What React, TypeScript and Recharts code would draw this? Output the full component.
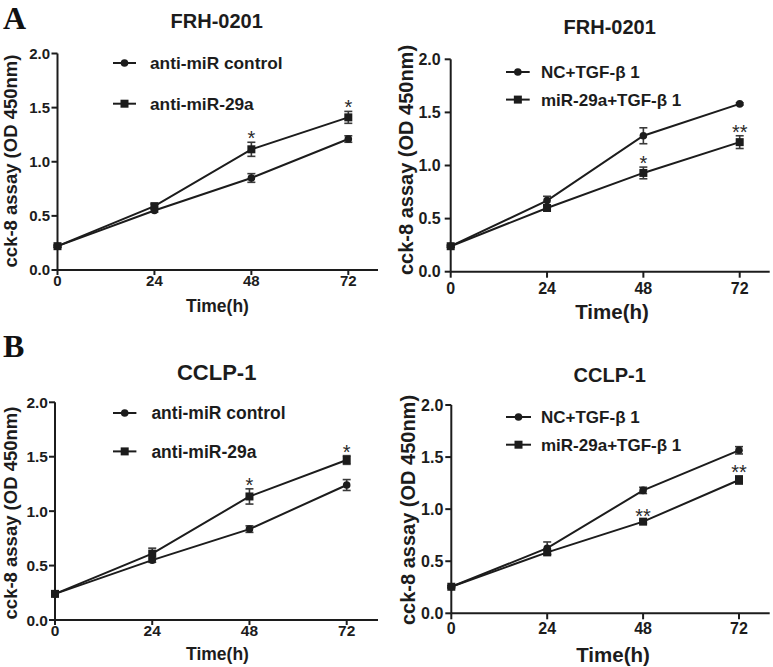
import React from 'react';
import { LineChart, Line, XAxis, YAxis, ErrorBar, Legend, LabelList } from 'recharts';

// ---------- data ----------
const hours = [0, 24, 48, 72];
const xTicks = [0, 24, 48, 72];
const yTicks = [0, 0.5, 1.0, 1.5, 2.0];

const namesAnti = ['anti-miR control', 'anti-miR-29a'];
const namesTgf = ['NC+TGF-β 1', 'miR-29a+TGF-β 1'];

// Panel A, left (FRH-0201, anti-miR)
const aLeftControl = [0.22, 0.55, 0.85, 1.21];
const aLeftControlSd = [0.01, 0.015, 0.04, 0.03];
const aLeftMiR = [0.22, 0.59, 1.115, 1.41];
const aLeftMiRSd = [0.01, 0.02, 0.065, 0.055];
const aLeftSig = ['', '', '*', '*'];

// Panel A, right (FRH-0201, TGF-β1)
const aRightNC = [0.24, 0.67, 1.28, 1.58];
const aRightNCSd = [0.01, 0.04, 0.075, 0.01];
const aRightMiR = [0.24, 0.6, 0.93, 1.22];
const aRightMiRSd = [0.01, 0.02, 0.055, 0.06];
const aRightSig = ['', '', '*', '**'];

// Panel B, left (CCLP-1, anti-miR)
const bLeftControl = [0.24, 0.55, 0.835, 1.24];
const bLeftControlSd = [0.01, 0.02, 0.03, 0.05];
const bLeftMiR = [0.24, 0.61, 1.135, 1.47];
const bLeftMiRSd = [0.01, 0.05, 0.07, 0.04];
const bLeftSig = ['', '', '*', '*'];

// Panel B, right (CCLP-1, TGF-β1)
const bRightNC = [0.255, 0.625, 1.18, 1.565];
const bRightNCSd = [0.01, 0.06, 0.03, 0.035];
const bRightMiR = [0.255, 0.585, 0.88, 1.28];
const bRightMiRSd = [0.01, 0.02, 0.015, 0.04];
const bRightSig = ['', '', '**', '**'];

const buildRows = (s1: number[], s1Sd: number[], s2: number[], s2Sd: number[], sig: string[]) =>
  hours.map((h, i) => ({
    h,
    a: s1[i],
    aSd: s1Sd[i],
    b: s2[i],
    bSd: s2Sd[i],
    sigPos: s2[i] + s2Sd[i],
    sig: sig[i],
  }));

// ---------- style ----------
const INK = '#1c1c1c';
const SANS = '"Liberation Sans", Arial, Helvetica, sans-serif';
const SERIF = '"Liberation Serif", "Times New Roman", serif';

type PanelCfg = {
  key: string;
  rows: any[];
  names: string[];
  left: number; top: number; W: number; H: number;
  x0: number; x72: number; xEnd: number; y0: number; y2: number;
  yTickSize: number; yTickMargin: number; xTickSize: number; xTickMargin: number;
  tickFont: number;
  legend: { lineX1: number; lineX2: number; textX: number; row1: number; row2: number; font: number };
  title: { text: string; cx: number; base: number; size: number };
  yLabel: { bx: number; cy: number; size: number };
  xLabel: { cx: number; base: number; size: number };
};

const panels: PanelCfg[] = [
  {
    key: 'AL', rows: buildRows(aLeftControl, aLeftControlSd, aLeftMiR, aLeftMiRSd, aLeftSig), names: namesAnti,
    left: 0, top: 0, W: 390, H: 333,
    x0: 57.5, x72: 348.3, xEnd: 378, y0: 270, y2: 53.5,
    yTickSize: 6, yTickMargin: 1.5, xTickSize: 5, xTickMargin: 0, tickFont: 15,
    legend: { lineX1: 113, lineX2: 136, textX: 150, row1: 63.3, row2: 104, font: 17.3 },
    title: { text: 'FRH-0201', cx: 216.7, base: 28, size: 20 },
    yLabel: { bx: 17, cy: 161, size: 18.5 },
    xLabel: { cx: 217.5, base: 312, size: 17.5 },
  },
  {
    key: 'AR', rows: buildRows(aRightNC, aRightNCSd, aRightMiR, aRightMiRSd, aRightSig), names: namesTgf,
    left: 383, top: 0, W: 390, H: 333,
    x0: 450.7, x72: 739.7, xEnd: 769.7, y0: 271.7, y2: 59.3,
    yTickSize: 6, yTickMargin: 4, xTickSize: 6, xTickMargin: 4.5, tickFont: 16,
    legend: { lineX1: 506.3, lineX2: 530, textX: 541.3, row1: 71.7, row2: 99.3, font: 17 },
    title: { text: 'FRH-0201', cx: 609.7, base: 33.5, size: 20 },
    yLabel: { bx: 413, cy: 160, size: 20 },
    xLabel: { cx: 612, base: 319.3, size: 20.5 },
  },
  {
    key: 'BL', rows: buildRows(bLeftControl, bLeftControlSd, bLeftMiR, bLeftMiRSd, bLeftSig), names: namesAnti,
    left: 0, top: 333, W: 390, H: 334,
    x0: 55, x72: 346.7, xEnd: 378, y0: 620, y2: 402.3,
    yTickSize: 6, yTickMargin: 1, xTickSize: 5, xTickMargin: 0, tickFont: 15.5,
    legend: { lineX1: 113.3, lineX2: 136.7, textX: 151.7, row1: 413.3, row2: 451.7, font: 17.5 },
    title: { text: 'CCLP-1', cx: 216.7, base: 380, size: 22 },
    yLabel: { bx: 17, cy: 513, size: 18.5 },
    xLabel: { cx: 217.5, base: 660, size: 17.5 },
  },
  {
    key: 'BR', rows: buildRows(bRightNC, bRightNCSd, bRightMiR, bRightMiRSd, bRightSig), names: namesTgf,
    left: 383, top: 333, W: 390, H: 334,
    x0: 451.3, x72: 739, xEnd: 769.7, y0: 613.3, y2: 405,
    yTickSize: 6, yTickMargin: 2, xTickSize: 6, xTickMargin: 3.5, tickFont: 16,
    legend: { lineX1: 506.3, lineX2: 531.3, textX: 541.3, row1: 417.3, row2: 445, font: 17 },
    title: { text: 'CCLP-1', cx: 609.7, base: 381.7, size: 20 },
    yLabel: { bx: 414.5, cy: 510, size: 20 },
    xLabel: { cx: 613, base: 661.5, size: 20.5 },
  },
];

const circleDot = (p: any) => (
  <circle key={`c${p.index}`} cx={p.cx} cy={p.cy} r={3.8} fill={INK} stroke="none" />
);
const squareDot = (p: any) => (
  <rect key={`s${p.index}`} x={p.cx - 4} y={p.cy - 4} width={8} height={8} fill={INK} stroke="none" />
);

const renderSig = (p: any) => {
  if (!p.value) return null;
  return (
    <text key={`g${p.index}`} x={p.x} y={p.y + 3} textAnchor="middle" fontFamily={SANS} fontSize={20} fill="#2a2a2a">
      {p.value}
    </text>
  );
};

const makeXTick = (size: number) => (p: any) => (
  <text
    x={p.x}
    y={p.y}
    dy="0.71em"
    textAnchor="middle"
    fontFamily={SANS}
    fontWeight={700}
    fontSize={size}
    fill={INK}
  >
    {p.payload.value}
  </text>
);

const makeYTick = (size: number) => (p: any) => (
  <text
    x={p.x}
    y={p.y}
    dy="0.36em"
    textAnchor="end"
    fontFamily={SANS}
    fontWeight={700}
    fontSize={size}
    fill={INK}
  >
    {Number(p.payload.value).toFixed(1)}
  </text>
);

const makeLegend = (cfg: PanelCfg) => (props: any) => {
  const items = (props.payload || []).filter((it: any) => it.dataKey === 'a' || it.dataKey === 'b');
  const L = cfg.legend;
  const baseY = 14;
  const gap = L.row2 - L.row1;
  const lineLen = L.lineX2 - L.lineX1;
  const mid = lineLen / 2;
  return (
    <svg width={260} height={gap + 30} style={{ display: 'block', overflow: 'visible' }}>
      {items.map((it: any, i: number) => {
        const cy = baseY + i * gap;
        return (
          <g key={it.dataKey}>
            <line x1={0} x2={lineLen} y1={cy} y2={cy} stroke={INK} strokeWidth={2} />
            {it.dataKey === 'a' ? (
              <circle cx={mid} cy={cy} r={3.8} fill={INK} />
            ) : (
              <rect x={mid - 4} y={cy - 4} width={8} height={8} fill={INK} />
            )}
            <text x={L.textX - L.lineX1} y={cy + L.font * 0.36} fontFamily={SANS} fontWeight={700} fontSize={L.font} fill={INK}>
              {it.value}
            </text>
          </g>
        );
      })}
    </svg>
  );
};

const Panel = ({ cfg }: { cfg: PanelCfg }) => {
  const yAxisW = cfg.x0 - cfg.left;
  const xMax = (72 * (cfg.xEnd - cfg.x0)) / (cfg.x72 - cfg.x0);
  const marginTop = cfg.y2 - cfg.top;
  const xAxisH = cfg.H - (cfg.y0 - cfg.top);
  const marginRight = cfg.left + cfg.W - cfg.xEnd;
  const axisStyle = { stroke: INK, strokeWidth: 2 };
  return (
    <div style={{ position: 'absolute', left: cfg.left, top: cfg.top }}>
      <LineChart
        width={cfg.W}
        height={cfg.H}
        data={cfg.rows}
        margin={{ top: marginTop, right: marginRight, bottom: 0, left: 0 }}
      >
        <XAxis
          dataKey="h"
          type="number"
          domain={[0, xMax]}
          ticks={xTicks}
          height={xAxisH}
          axisLine={axisStyle}
          tickLine={axisStyle}
          tickSize={cfg.xTickSize}
          tickMargin={cfg.xTickMargin}
          tick={makeXTick(cfg.tickFont)}
          interval={0}
        />
        <YAxis
          type="number"
          domain={[0, 2]}
          ticks={yTicks}
          width={yAxisW}
          axisLine={axisStyle}
          tickLine={axisStyle}
          tickSize={cfg.yTickSize}
          tickMargin={cfg.yTickMargin}
          tick={makeYTick(cfg.tickFont)}
          interval={0}
        />
        <Legend
          layout="vertical"
          align="center"
          verticalAlign="middle"
          content={makeLegend(cfg)}
          wrapperStyle={{
            left: cfg.legend.lineX1 - cfg.left,
            top: cfg.legend.row1 - 14 - cfg.top,
            width: 260,
          }}
        />
        <Line
          dataKey="a"
          name={cfg.names[0]}
          stroke={INK}
          strokeWidth={2}
          dot={circleDot}
          activeDot={false}
          isAnimationActive={false}
        >
          <ErrorBar dataKey="aSd" width={4} strokeWidth={1.6} stroke="#3a3a3a" direction="y" />
        </Line>
        <Line
          dataKey="b"
          name={cfg.names[1]}
          stroke={INK}
          strokeWidth={2}
          dot={squareDot}
          activeDot={false}
          isAnimationActive={false}
        >
          <ErrorBar dataKey="bSd" width={4} strokeWidth={1.6} stroke="#3a3a3a" direction="y" />
        </Line>
        <Line
          dataKey="sigPos"
          stroke="none"
          dot={false}
          activeDot={false}
          legendType="none"
          isAnimationActive={false}
        >
          <LabelList dataKey="sig" content={renderSig} />
        </Line>
      </LineChart>
    </div>
  );
};

export default function App() {
  return (
    <div
      style={{
        position: 'absolute',
        left: 0,
        top: 0,
        width: 773,
        height: 667,
        background: '#ffffff',
        overflow: 'hidden',
      }}
    >
      {panels.map((p) => (
        <Panel key={p.key} cfg={p} />
      ))}
      <svg
        width={773}
        height={667}
        style={{ position: 'absolute', left: 0, top: 0, pointerEvents: 'none' }}
      >
        <text x={3} y={28.5} fontFamily={SERIF} fontWeight={700} fontSize={32} fill="#111">A</text>
        <text x={3} y={357} fontFamily={SERIF} fontWeight={700} fontSize={32} fill="#111">B</text>
        {panels.map((p) => (
          <g key={`t${p.key}`} fontFamily={SANS} fontWeight={700} fill={INK}>
            <text x={p.title.cx} y={p.title.base} fontSize={p.title.size} textAnchor="middle">
              {p.title.text}
            </text>
            <text
              transform={`translate(${p.yLabel.bx},${p.yLabel.cy}) rotate(-90)`}
              fontSize={p.yLabel.size}
              textAnchor="middle"
            >
              cck-8 assay (OD 450nm)
            </text>
            <text x={p.xLabel.cx} y={p.xLabel.base} fontSize={p.xLabel.size} textAnchor="middle">
              Time(h)
            </text>
          </g>
        ))}
      </svg>
    </div>
  );
}
